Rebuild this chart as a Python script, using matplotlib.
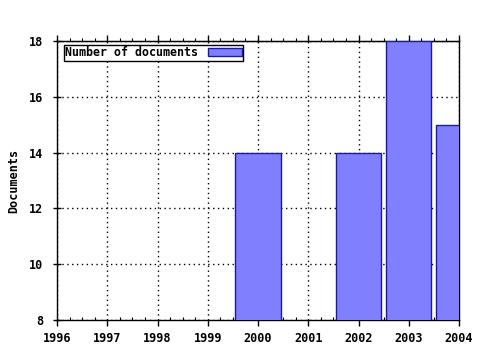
import matplotlib
matplotlib.use("Agg")
import matplotlib.pyplot as plt
from matplotlib.ticker import MultipleLocator

years = [2000, 2002, 2003, 2004]
docs = [14, 14, 18, 15]
xticks = list(range(1996, 2005))
yticks = [8, 10, 12, 14, 16, 18]

plt.rcParams['font.family'] = ['DejaVu Sans Mono']
plt.rcParams['font.weight'] = 'bold'

fig = plt.figure(figsize=(4.8, 3.5), dpi=100)
ax = fig.add_axes([57/480, 30/350, 402/480, 279/350])

ax.bar(years, docs, width=0.9, color='#8080ff', edgecolor='#1a1aa0',
       linewidth=1.0, label='Number of documents', zorder=3)

ax.set_xlim(1996, 2004)
ax.set_ylim(8, 18)
ax.set_xticks(xticks)
ax.set_yticks(yticks)
ax.xaxis.set_minor_locator(MultipleLocator(0.25))
ax.grid(True, which='major', color='black', linestyle=(0, (1, 2.5)), linewidth=1.0, zorder=0)

ax.tick_params(axis='x', which='major', direction='out', length=4, width=1.0,
               labelsize=8.5, pad=5)
ax.tick_params(axis='x', which='minor', direction='in', length=2.5, width=0.8)
ax.tick_params(axis='y', which='major', direction='inout', length=6, width=1.0,
               labelsize=8.5, pad=7)

# top axis: ticks pointing outward, no labels
top = ax.secondary_xaxis('top')
top.set_xticks(xticks)
top.xaxis.set_minor_locator(MultipleLocator(0.25))
top.tick_params(which='major', direction='out', length=4, width=1.0, labeltop=False)
top.tick_params(which='minor', direction='out', length=2.5, width=0.8)

for lbl in ax.get_xticklabels() + ax.get_yticklabels():
    lbl.set_fontweight('bold')
for s in ax.spines.values():
    s.set_linewidth(1.0)

ax.set_ylabel('Documents', fontsize=8.5, fontweight='bold', labelpad=6)

leg = ax.legend(loc='upper left', markerfirst=False, fancybox=False,
                framealpha=1, edgecolor='black',
                borderpad=0.15, handlelength=2.9, handleheight=0.6,
                handletextpad=0.8, borderaxespad=0.3, bbox_to_anchor=(0.008, 1.0),
                prop={'weight': 'bold', 'size': 8.4})
leg.get_frame().set_linewidth(1.0)

fig.savefig('out.png', dpi=100)
